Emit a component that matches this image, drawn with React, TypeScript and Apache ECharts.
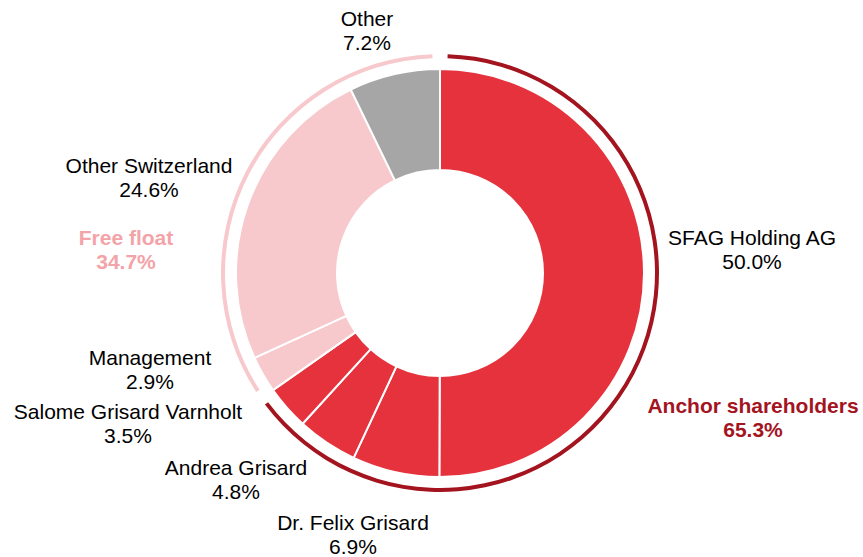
import React, { useEffect, useRef } from "react";
import * as echarts from "echarts";

const holders = ["SFAG Holding AG", "Dr. Felix Grisard", "Andrea Grisard", "Salome Grisard Varnholt", "Management", "Other Switzerland", "Other"];
const shares = [50.0, 6.9, 4.8, 3.5, 2.9, 24.6, 7.2];
const groups = ["Anchor shareholders", "Free float"];
const groupShares = [65.3, 34.7];

const RED = "#E5323C";
const PINK = "#F8C9CC";
const GREY = "#A6A6A6";
const DARK = "#A3141F";
const PINK_TXT = "#F4A3A8";
const sliceColors = [RED, RED, RED, RED, PINK, PINK, GREY];
const groupColors = [DARK, PINK];
const groupTextColors = [DARK, PINK_TXT];

const labelPos: [number, number][] = [
  [752, 249],
  [353, 534],
  [236, 479],
  [128, 423],
  [150, 369],
  [149, 177],
  [367, 30],
];
const groupLabelPos: [number, number][] = [
  [753, 417],
  [126, 249],
];

export default function App() {
  const ref = useRef<HTMLDivElement>(null);
  useEffect(() => {
    const chart = echarts.init(ref.current!, undefined, { renderer: "svg" });
    chart.setOption({
      animation: false,
      backgroundColor: "#fff",
      series: [
        {
          type: "pie",
          center: [440, 273],
          radius: [103, 204],
          startAngle: 90,
          clockwise: true,
          avoidLabelOverlap: false,
          itemStyle: { borderColor: "#fff", borderWidth: 2 },
          label: {
            show: true,
            position: "outside",
            fontFamily: "Liberation Sans, Arial, sans-serif",
            fontSize: 21,
            lineHeight: 24,
            color: "#000",
            align: "center",
            formatter: (p: any) => `${p.name}\n${Number(p.value).toFixed(1)}%`,
          },
          labelLine: { show: false },
          labelLayout: (p: any) => {
            const pos = labelPos[p.dataIndex];
            return { x: pos[0], y: pos[1], align: "center", verticalAlign: "middle" };
          },
          emphasis: { disabled: true },
          data: holders.map((n, i) => ({ name: n, value: shares[i], itemStyle: { color: sliceColors[i] } })),
        },
        {
          type: "pie",
          center: [440, 273],
          radius: [215, 219],
          startAngle: 90,
          clockwise: true,
          padAngle: 4,
          avoidLabelOverlap: false,
          label: {
            show: true,
            position: "outside",
            fontFamily: "Liberation Sans, Arial, sans-serif",
            fontSize: 21,
            fontWeight: "bold",
            lineHeight: 24,
            align: "center",
            formatter: (p: any) => `${p.name}\n${Number(p.value).toFixed(1)}%`,
          },
          labelLine: { show: false },
          labelLayout: (p: any) => {
            const pos = groupLabelPos[p.dataIndex];
            return { x: pos[0], y: pos[1], align: "center", verticalAlign: "middle" };
          },
          emphasis: { disabled: true },
          data: groups.map((n, i) => ({
            name: n,
            value: groupShares[i],
            itemStyle: { color: groupColors[i] },
            label: { color: groupTextColors[i] },
          })),
        },
      ],
    });
    return () => chart.dispose();
  }, []);
  return <div ref={ref} style={{ position: "absolute", left: 0, top: 0, width: 863, height: 557 }} />;
}
